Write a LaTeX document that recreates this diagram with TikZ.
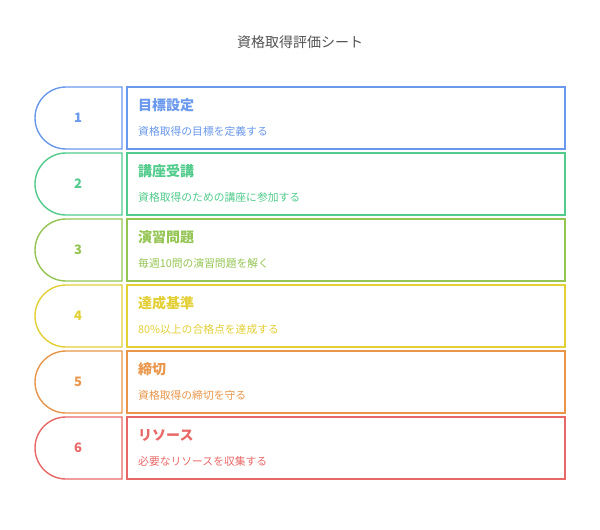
\documentclass[tikz,border=0pt]{standalone}
\usepackage{fontspec}
\setmainfont{Noto Sans CJK JP}
\definecolor{cA}{HTML}{6A98EC}
\definecolor{cB}{HTML}{52CB8C}
\definecolor{cC}{HTML}{94C452}
\definecolor{cD}{HTML}{E3CF36}
\definecolor{cE}{HTML}{E9964A}
\definecolor{cF}{HTML}{E86868}
\tikzset{
  tab/.style={line width=1.4pt},
  titletxt/.style={font=\fontsize{14}{14}\selectfont, text=black!68},
  numtxt/.style={font=\fontsize{13}{13}\selectfont\bfseries},
  headtxt/.style={font=\fontsize{14}{14}\selectfont\bfseries, anchor=west, inner sep=0pt},
  desctxt/.style={font=\fontsize{10.8}{10.8}\selectfont, anchor=west, inner sep=0pt}
}
\begin{document}
\begin{tikzpicture}[x=1pt,y=1pt]
  \useasboundingbox (0,0) rectangle (600,-530);

  \node[titletxt] (title) at (300,-42) {資格取得評価シート};

  % One row per step: tab with number, box with heading and text
  \foreach \i/\c/\h/\d in {
      1/cA/目標設定/資格取得の目標を定義する,
      2/cB/講座受講/資格取得のための講座に参加する,
      3/cC/演習問題/毎週10問の演習問題を解く,
      4/cD/達成基準/80\%以上の合格点を達成する,
      5/cE/締切/資格取得の締切を守る,
      6/cF/リソース/必要なリソースを収集する}{
    \pgfmathsetmacro\rtop{87+66*(\i-1)}
    \pgfmathsetmacro\rbot{\rtop+62}
    \pgfmathsetmacro\rmid{\rtop+31}
    \pgfmathsetmacro\rhead{\rtop+18}
    \pgfmathsetmacro\rdesc{\rtop+44}

    \draw[tab,draw=\c] (122,-\rtop) -- (66,-\rtop)
      arc[start angle=90,end angle=270,radius=31] -- (122,-\rbot) -- cycle;
    \draw[tab,draw=\c] (127,-\rtop) rectangle (565,-\rbot);

    \node[numtxt,text=\c] (num\i) at (78,-\rmid) {\i};
    \node[headtxt,text=\c] (head\i) at (138,-\rhead) {\h};
    \node[desctxt,text=\c] (desc\i) at (138,-\rdesc) {\d};
  }
\end{tikzpicture}
\end{document}
